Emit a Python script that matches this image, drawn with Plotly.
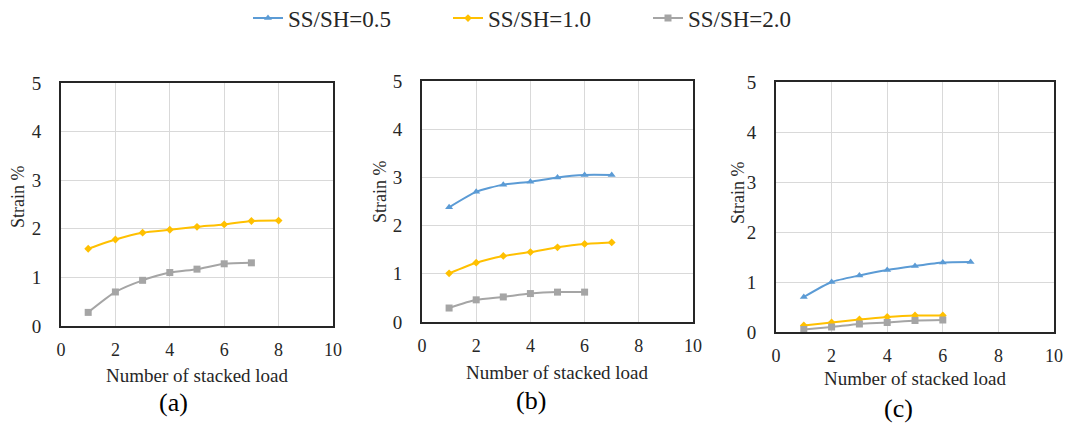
import plotly.graph_objects as go

# ---------------- data ----------------
x_a_10 = [1, 2, 3, 4, 5, 6, 7, 8]
a_10 = [1.59, 1.78, 1.92, 1.98, 2.04, 2.09, 2.16, 2.17]
x_a_20 = [1, 2, 3, 4, 5, 6, 7]
a_20 = [0.28, 0.70, 0.94, 1.10, 1.17, 1.28, 1.30]

x_b_05 = [1, 2, 3, 4, 5, 6, 7]
b_05 = [2.38, 2.70, 2.85, 2.91, 3.00, 3.05, 3.05]
x_b_10 = [1, 2, 3, 4, 5, 6, 7]
b_10 = [1.01, 1.23, 1.37, 1.45, 1.55, 1.62, 1.65]
x_b_20 = [1, 2, 3, 4, 5, 6]
b_20 = [0.29, 0.46, 0.52, 0.59, 0.62, 0.62]

x_c_05 = [1, 2, 3, 4, 5, 6, 7]
c_05 = [0.70, 1.00, 1.13, 1.24, 1.32, 1.39, 1.40]
x_c_10 = [1, 2, 3, 4, 5, 6]
c_10 = [0.13, 0.19, 0.25, 0.30, 0.33, 0.33]
x_c_20 = [1, 2, 3, 4, 5, 6]
c_20 = [0.05, 0.10, 0.16, 0.19, 0.23, 0.24]

series_names = ["SS/SH=0.5", "SS/SH=1.0", "SS/SH=2.0"]
panel_labels = ["(a)", "(b)", "(c)"]
x_ticks = [0, 2, 4, 6, 8, 10]
y_ticks = [0, 1, 2, 3, 4, 5]
x_title = "Number of stacked load"
y_title = "Strain %"

# ---------------- styles ----------------
W, H = 1067, 423
colors = {"SS/SH=0.5": "#5B9BD5", "SS/SH=1.0": "#FFC000", "SS/SH=2.0": "#A5A5A5"}
symbols = {"SS/SH=0.5": "triangle-up", "SS/SH=1.0": "diamond", "SS/SH=2.0": "square"}
msize = {"SS/SH=0.5": 7, "SS/SH=1.0": 6, "SS/SH=2.0": 7}
FONT = "Times New Roman"
TXT = "#262626"

# panel pixel boxes: (left, right, top, bottom)
boxes = [(61, 333, 83, 326), (422, 693, 81, 322), (776, 1054, 82, 332)]

panels = [
    [("SS/SH=1.0", x_a_10, a_10), ("SS/SH=2.0", x_a_20, a_20)],
    [("SS/SH=0.5", x_b_05, b_05), ("SS/SH=1.0", x_b_10, b_10), ("SS/SH=2.0", x_b_20, b_20)],
    [("SS/SH=0.5", x_c_05, c_05), ("SS/SH=1.0", x_c_10, c_10), ("SS/SH=2.0", x_c_20, c_20)],
]

fig = go.Figure()
shown = set()
for i, traces in enumerate(panels):
    suffix = "" if i == 0 else str(i + 1)
    for name, xs, ys in traces:
        show = name not in shown
        shown.add(name)
        fig.add_trace(go.Scatter(
            x=xs, y=ys, name=name, mode="lines+markers",
            line=dict(color=colors[name], width=2, shape="spline", smoothing=0.6),
            marker=dict(symbol=symbols[name], size=msize[name], color=colors[name]),
            xaxis="x" + suffix, yaxis="y" + suffix,
            showlegend=show, legendrank=series_names.index(name) + 1,
        ))

layout = dict(
    width=W, height=H, margin=dict(l=0, r=0, t=0, b=0, autoexpand=False),
    paper_bgcolor="white", plot_bgcolor="white",
    font=dict(family=FONT, color=TXT, size=18),
    showlegend=True,
    legend=dict(orientation="h", x=248 / W, xanchor="left", y=1.008, yanchor="top",
                entrywidth=155, entrywidthmode="pixels",
                font=dict(size=23, family=FONT, color=TXT), itemwidth=30,
                bgcolor="rgba(0,0,0,0)"),
)
annotations = []
for i, (l, r, t, b) in enumerate(boxes):
    suffix = "" if i == 0 else str(i + 1)
    layout["xaxis" + suffix] = dict(
        domain=[l / W, r / W], anchor="y" + suffix, range=[0, 10],
        tickvals=x_ticks, showgrid=True, gridcolor="#D9D9D9", gridwidth=1,
        zeroline=False, showline=True, linecolor="#262626", linewidth=2, mirror=True,
        ticks="", ticklabelstandoff=6, tickfont=dict(size=18, family=FONT, color=TXT),
    )
    layout["yaxis" + suffix] = dict(
        domain=[1 - b / H, 1 - t / H], anchor="x" + suffix, range=[0, 5],
        tickvals=y_ticks, showgrid=True, gridcolor="#D9D9D9", gridwidth=1,
        zeroline=False, showline=True, linecolor="#262626", linewidth=2, mirror=True,
        ticks="", ticklabelstandoff=14, tickfont=dict(size=19, family=FONT, color=TXT),
    )

title_pos = [
    # x-title (cx, cy), y-title (cx, cy), label (cx, cy)
    ((197, 375), (18, 197), (173, 402)),
    ((557, 372), (380, 192), (531, 400)),
    ((915, 378), (738, 193), (898, 408)),
]
for (xt, yt, lab), name in zip(title_pos, panel_labels):
    annotations.append(dict(text=x_title, x=xt[0] / W, y=1 - xt[1] / H, xref="paper", yref="paper",
                            xanchor="center", yanchor="middle", showarrow=False,
                            font=dict(size=19, family=FONT, color=TXT)))
    annotations.append(dict(text=y_title, x=yt[0] / W, y=1 - yt[1] / H, xref="paper", yref="paper",
                            xanchor="center", yanchor="middle", showarrow=False, textangle=-90,
                            font=dict(size=18, family=FONT, color=TXT)))
    annotations.append(dict(text=name, x=lab[0] / W, y=1 - lab[1] / H, xref="paper", yref="paper",
                            xanchor="center", yanchor="middle", showarrow=False,
                            font=dict(size=26, family=FONT, color="#000000")))
layout["annotations"] = annotations
fig.update_layout(**layout)
fig.write_html("out.html")
